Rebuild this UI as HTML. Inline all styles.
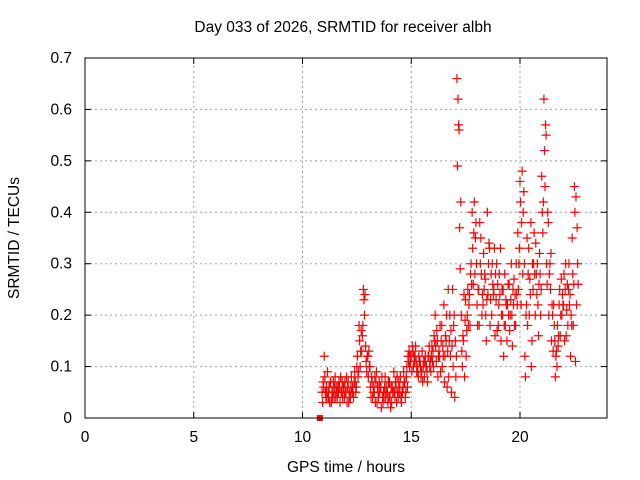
<!DOCTYPE html>
<html><head><meta charset="utf-8"><style>
html,body{margin:0;padding:0;background:#fff;}
svg{display:block;font-family:"Liberation Sans",sans-serif;}
</style></head><body>
<svg id="chart" width="640" height="480" viewBox="0 0 640 480">
<text x="343" y="32" text-anchor="middle" font-size="15.5">Day 033 of 2026, SRMTID for receiver albh</text>
<text transform="translate(19,238) rotate(-90)" text-anchor="middle" font-size="15.5">SRMTID / TECUs</text>
<text x="346" y="472" text-anchor="middle" font-size="15.5">GPS time / hours</text>
<g id="grid"></g>
<g id="ticks"></g>
<g id="marks"></g>
<rect x="85" y="58" width="522" height="360" fill="none" stroke="#000" stroke-width="1"/>
</svg>
<script>
const xTicks=[0,5,10,15,20];
const yTicks=[0,0.1,0.2,0.3,0.4,0.5,0.6,0.7];
const yTickLabels=["0","0.1","0.2","0.3","0.4","0.5","0.6","0.7"];
const tStart=10.9, tStep=0.1;
const seriesA=[.05,.12,.06,.04,.07,.05,.08,.04,.06,.05, .06,.05,.07,.04,.06,.09,.10,.18,.17,.25, .14,.12,.10,.07,.05,.09,.04,.06,.03,.08, .05,.07,.03,.09,.06,.04,.08,.05,.07,.10, .13,.12,.10,.14,.09,.11,.13,.08,.10,.12, .09,.13,.20,.15,.12,.18,.22,.15,.25,.12, .25,.04,.66,.56,.20,.15,.23,.25,.18,.40, .42,.30,.25,.35,.22,.27,.40,.33,.20,.25, .23,.18,.33,.20,.28,.15,.26,.30,.22,.18, .36,.46,.48,.30,.22,.33,.38,.25,.20,.30, .32,.47,.62,.55,.38,.25,.20,.15,.10,.22, .27,.22,.30,.18,.24,.35,.45,.22];
const seriesB=[.03,.08,.04,.06,.03,.07,.04,.06,.03,.07, .04,.08,.03,.06,.05,.07,.12,.15,.13,.23, .11,.08,.06,.04,.08,.03,.07,.02,.05,.04, .03,.04,.06,.05,.03,.07,.04,.06,.04,.06, .10,.09,.12,.11,.08,.10,.07,.11,.09,.14, .12,.10,.14,.08,.18,.10,.07,.20,.08,.17, .10,.15,.49,.37,.13,.24,.12,.18,.28,.33, .28,.22,.18,.28,.32,.20,.24,.18,.30,.33, .30,.22,.15,.25,.18,.22,.17,.20,.27,.30, .25,.42,.28,.12,.35,.20,.10,.30,.34,.22, .28,.40,.52,.30,.20,.32,.13,.08,.18,.25, .20,.28,.16,.25,.12,.28,.40,.37];
const seriesC=[.07,.05,.09,.03,.05,.04,.06,.05,.08,.04, .07,.03,.05,.08,.04,.05,.08,.10,.16,.20, .09,.13,.04,.05,.03,.06,.05,.08,.04,.06, .07,.02,.05,.04,.08,.05,.03,.09,.05,.12, .12,.14,.11,.09,.12,.08,.10,.12,.07,.10, .14,.16,.11,.12,.09,.14,.12,.06,.15,.05, .18,.08,.62,.29,.10,.08,.17,.22,.30,.26, .35,.18,.38,.20,.25,.15,.30,.23,.26,.16, .17,.28,.20,.12,.23,.26,.20,.14,.18,.24, .30,.22,.40,.08,.18,.27,.15,.36,.28,.16, .20,.36,.45,.26,.28,.15,.22,.12,.14,.16, .24,.15,.21,.30,.20,.18,.11,.30];
const seriesD=[.06,.04,.05,.07,.04,.06,.05,.07,.05,.06, .05,.06,.04,.05,.07,.06,.09,.13,.18,.24, .12,.10,.08,.06,.07,.05,.06,.04,.06,.05, .04,.06,.05,.07,.05,.06,.05,.07,.08,.11, .11,.13,.12,.10,.11,.09,.11,.10,.12,.11, .11,.15,.17,.13,.15,.12,.16,.13,.20,.14, .20,.12,.57,.42,.16,.19,.20,.24,.26,.36, .38,.25,.30,.24,.28,.23,.34,.28,.24,.28, .26,.24,.25,.18,.22,.20,.23,.25,.24,.22, .33,.38,.44,.20,.28,.24,.30,.28,.24,.26, .25,.42,.57,.40,.30,.22,.18,.13,.16,.20, .22,.25,.26,.22,.18,.26,.43,.26];
const seriesOffsets=[0,0.025,0.05,0.075];
const marker=[10.8,0];

const X0=85,X1=607,Y0=418,Y1=58,XMAX=24,YMAX=0.7;
const xs=t=>X0+(t/XMAX)*(X1-X0);
const ys=v=>Y0-(v/YMAX)*(Y0-Y1);
const NS="http://www.w3.org/2000/svg";
const grid=document.getElementById('grid'),ticks=document.getElementById('ticks'),marks=document.getElementById('marks');
function mk(tag,at,parent){const e=document.createElementNS(NS,tag);for(const k in at)e.setAttribute(k,at[k]);parent.appendChild(e);return e;}
xTicks.forEach(t=>{
  const x=xs(t);
  if(t>0){const g=mk('line',{x1:x,x2:x,y1:Y0,y2:Y1,stroke:'#a0a0a0','stroke-dasharray':'2,3'},grid);
  
  }
  mk('line',{x1:x,x2:x,y1:Y0,y2:Y0-6,stroke:'#000'},ticks);
  mk('line',{x1:x,x2:x,y1:Y1,y2:Y1+6,stroke:'#000'},ticks);
  const l=mk('text',{x:x,y:442,'text-anchor':'middle','font-size':'15.5'},ticks);l.textContent=String(t);
  
  
});
yTicks.forEach((v,i)=>{
  const y=ys(v);
  if(v>0&&v<YMAX){const g=mk('line',{x1:X0,x2:X1,y1:y,y2:y,stroke:'#a0a0a0','stroke-dasharray':'2,3'},grid);
  
  }
  mk('line',{x1:X0,x2:X0+6,y1:y,y2:y,stroke:'#000'},ticks);
  mk('line',{x1:X1,x2:X1-6,y1:y,y2:y,stroke:'#000'},ticks);
  const l=mk('text',{x:72,y:y+5,'text-anchor':'end','font-size':'15.5'},ticks);l.textContent=yTickLabels[i];
  
  
});
[seriesA,seriesB,seriesC,seriesD].forEach((s,si)=>{
  s.forEach((v,i)=>{
    const x=xs(tStart+i*tStep+seriesOffsets[si]),y=ys(v);
    const p=mk('path',{d:`M${x-4.5},${y}h9M${x},${y-4.5}v9`,stroke:'#ff0000','stroke-width':'1.2',fill:'none'},marks);
    
    
  });
});
const sq=mk('rect',{x:xs(marker[0])-3,y:ys(marker[1])-3,width:6,height:6,fill:'#ff0000'},marks);


</script>
</body></html>
